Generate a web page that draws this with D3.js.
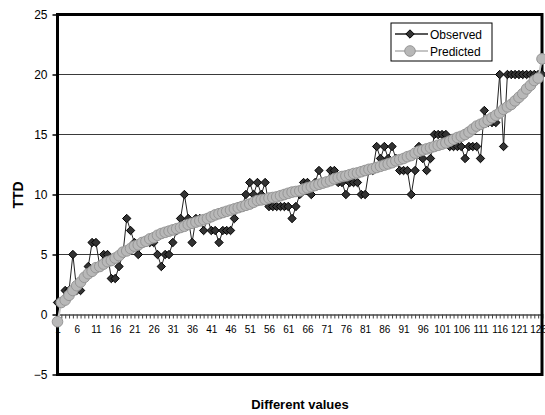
<!DOCTYPE html>
<html>
<head>
<meta charset="utf-8">
<script src="https://cdn.jsdelivr.net/npm/d3@7"></script>
<style>
  body { margin: 0; background: #fff; }
  text { font-family: "Liberation Sans", Arial, sans-serif; }
</style>
</head>
<body>
<svg id="chart" width="545" height="415"></svg>
<script>
// Observed TTD for each value, in rank order
const observed = [
  1, 1, 2, 2, 5, 2, 2, 3, 4, 6,
  6, 4, 5, 5, 3, 3, 4, 5, 8, 7,
  6, 5, 6, 6, 6, 6, 5, 4, 5, 5,
  6, 7, 8, 10, 8, 6, 8, 8, 7, 8,
  7, 7, 6, 7, 7, 7, 8, 9, 9, 10,
  11, 10, 11, 10, 11, 9, 9, 9, 9, 9,
  9, 8, 9, 10, 11, 11, 10, 11, 12, 11,
  11, 12, 12, 11, 11, 10, 11, 11, 11, 10,
  10, 12, 12, 14, 13, 14, 13, 14, 13, 12,
  12, 12, 10, 12, 14, 13, 12, 13, 15, 15,
  15, 15, 14, 14, 14, 14, 13, 14, 14, 14,
  13, 17, 16, 16, 16, 20, 14, 20, 20, 20,
  20, 20, 20, 20, 20, 20, 20
];

// Model-predicted TTD for the same values
const predicted = [
  -0.6, 1.0, 1.2, 1.6, 2.0, 2.4, 2.7, 3.1, 3.4, 3.6,
  3.9, 4.0, 4.2, 4.4, 4.5, 4.7, 4.9, 5.2, 5.3, 5.5,
  5.7, 5.8, 6.0, 6.1, 6.3, 6.4, 6.6, 6.75, 6.85, 6.95,
  7.05, 7.15, 7.25, 7.35, 7.5, 7.6, 7.7, 7.8, 7.9, 8.0,
  8.15, 8.3, 8.4, 8.5, 8.6, 8.7, 8.8, 8.9, 9.0, 9.1,
  9.2, 9.35, 9.5, 9.55, 9.6, 9.7, 9.75, 9.8, 9.9, 10.0,
  10.1, 10.2, 10.25, 10.3, 10.45, 10.55, 10.65, 10.75, 10.85, 10.95,
  11.05, 11.15, 11.3, 11.4, 11.5, 11.55, 11.65, 11.75, 11.8, 11.9,
  12.0, 12.1, 12.15, 12.25, 12.35, 12.45, 12.55, 12.65, 12.8, 12.9,
  13.0, 13.15, 13.25, 13.45, 13.6, 13.7, 13.8, 13.9, 14.0, 14.1,
  14.2, 14.3, 14.45, 14.6, 14.75, 14.85, 15.0, 15.2, 15.45, 15.7,
  15.85, 16.0, 16.2, 16.4, 16.6, 16.8, 17.1, 17.3, 17.5, 17.8,
  18.1, 18.4, 18.8, 19.1, 19.5, 19.7, 21.3
];

const categories = observed.map((d, i) => i + 1);
const yTicks = [-5, 0, 5, 10, 15, 20, 25];
const gridValues = [5, 10, 15, 20];
const xTickLabels = [1, 6, 11, 16, 21, 26, 31, 36, 41, 46, 51, 56, 61, 66, 71, 76,
                     81, 86, 91, 96, 101, 106, 111, 116, 121, 126];
const seriesNames = ["Observed", "Predicted"];

const svg = d3.select("#chart");
const plot = { left: 57.5, right: 542, top: 14.5, bottom: 374.5 };

const x = d3.scaleLinear().domain([1, categories.length]).range([plot.left, plot.right]);
const y = d3.scaleLinear().domain([-5, 25]).range([plot.bottom, plot.top]);

// horizontal gridlines
svg.append("g").selectAll("line").data(gridValues).join("line")
  .attr("x1", plot.left).attr("x2", plot.right)
  .attr("y1", d => y(d)).attr("y2", d => y(d))
  .attr("stroke", "#3a3a3a").attr("stroke-width", 1);

// category axis running along zero
const xAxis = d3.axisBottom(x)
  .tickValues(categories)
  .tickSize(4)
  .tickPadding(7)
  .tickFormat(d => xTickLabels.includes(d) ? d : "");
const gx = svg.append("g").attr("transform", `translate(0,${y(0)})`).call(xAxis);
gx.select(".domain").attr("stroke", "#777").attr("stroke-width", 2);
gx.selectAll(".tick line").attr("stroke", "#444");
gx.selectAll(".tick text").attr("font-size", 10).attr("fill", "#000")
  .style("font-family", "'Liberation Sans', Arial, sans-serif");

// value axis
const yAxis = d3.axisLeft(y).tickValues(yTicks).tickSize(5).tickPadding(5);
const gy = svg.append("g").attr("transform", `translate(${plot.left},0)`).call(yAxis);
gy.select(".domain").remove();
gy.selectAll(".tick line").attr("stroke", "#000").attr("stroke-width", 1.5);
gy.selectAll(".tick text").attr("font-size", 12).attr("fill", "#000")
  .style("font-family", "'Liberation Sans', Arial, sans-serif");

// plot frame
svg.append("rect")
  .attr("x", plot.left).attr("y", plot.top)
  .attr("width", plot.right - plot.left).attr("height", plot.bottom - plot.top)
  .attr("fill", "none").attr("stroke", "#000").attr("stroke-width", 3);

const line = d3.line().x((d, i) => x(i + 1)).y(d => y(d));
const diamond = d3.symbol().type(d3.symbolDiamond2).size(45);

// observed series
svg.append("path").datum(observed)
  .attr("d", line).attr("fill", "none")
  .attr("stroke", "#222").attr("stroke-width", 1);
svg.append("g").selectAll("path").data(observed).join("path")
  .attr("d", diamond)
  .attr("transform", (d, i) => `translate(${x(i + 1)},${y(d)})`)
  .attr("fill", "#333").attr("stroke", "#000").attr("stroke-width", 1);

// predicted series
svg.append("path").datum(predicted)
  .attr("d", line).attr("fill", "none")
  .attr("stroke", "#c4c4c4").attr("stroke-width", 2);
svg.append("g").selectAll("circle").data(predicted).join("circle")
  .attr("cx", (d, i) => x(i + 1)).attr("cy", d => y(d))
  .attr("r", 5.3)
  .attr("fill", "#b8b8b8").attr("stroke", "#969696").attr("stroke-width", 1);

// legend
const lg = svg.append("g").attr("transform", "translate(391,23)");
lg.append("rect").attr("width", 101).attr("height", 38)
  .attr("fill", "#fff").attr("stroke", "#000").attr("stroke-width", 1);
const rows = [
  { name: seriesNames[0], y: 11 },
  { name: seriesNames[1], y: 28 }
];
lg.append("line").attr("x1", 4).attr("x2", 37).attr("y1", rows[0].y).attr("y2", rows[0].y)
  .attr("stroke", "#222").attr("stroke-width", 1.5);
lg.append("path").attr("d", diamond).attr("transform", `translate(19,${rows[0].y})`)
  .attr("fill", "#333").attr("stroke", "#000");
lg.append("line").attr("x1", 4).attr("x2", 37).attr("y1", rows[1].y).attr("y2", rows[1].y)
  .attr("stroke", "#c4c4c4").attr("stroke-width", 2);
lg.append("circle").attr("cx", 19).attr("cy", rows[1].y).attr("r", 5.3)
  .attr("fill", "#b8b8b8").attr("stroke", "#969696");
lg.selectAll("text.lab").data(rows).join("text").attr("class", "lab")
  .attr("x", 39).attr("y", d => d.y + 4.5)
  .attr("font-size", 12).text(d => d.name);

// axis titles
svg.append("text")
  .attr("transform", "translate(23,195) rotate(-90)")
  .attr("text-anchor", "middle").attr("font-size", 14).attr("font-weight", "bold")
  .text("TTD");
svg.append("text")
  .attr("x", 300).attr("y", 409)
  .attr("text-anchor", "middle").attr("font-size", 13).attr("font-weight", "bold")
  .text("Different values");
</script>
</body>
</html>
